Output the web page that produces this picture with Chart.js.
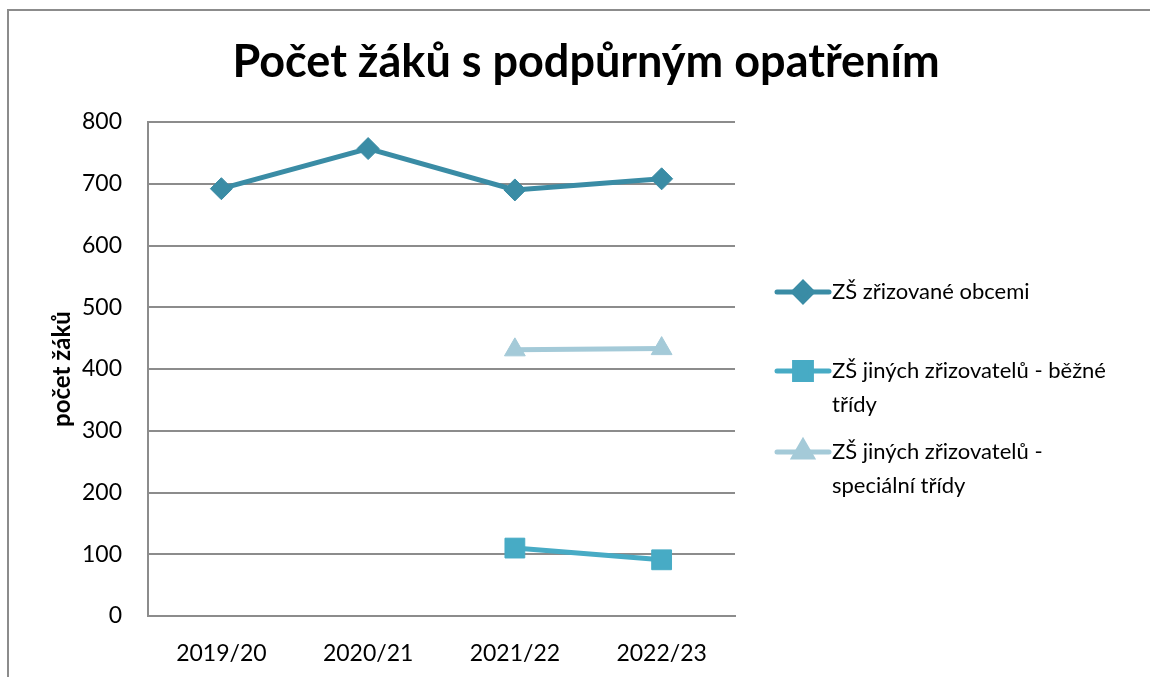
<!DOCTYPE html>
<html>
<head>
<meta charset="utf-8">
<script src="https://cdn.jsdelivr.net/npm/chart.js@4/dist/chart.umd.min.js"></script>
<style>
  html, body { margin: 0; padding: 0; background: #fff; }
  #wrap { width: 1150px; height: 677px; }
</style>
</head>
<body>
<div id="wrap"><canvas id="chart1" width="1150" height="677"></canvas></div>
<script>
const years = ['2019/20', '2020/21', '2021/22', '2022/23'];
const obce = [692, 757, 690, 708];
const bezne = [null, null, 110, 91];
const specialni = [null, null, 431, 433];
const seriesNames = ['ZŠ zřizované obcemi', 'ZŠ jiných zřizovatelů - běžné třídy', 'ZŠ jiných zřizovatelů - speciální třídy'];
const legendLines = [['ZŠ zřizované obcemi'], ['ZŠ jiných zřizovatelů - běžné', 'třídy'], ['ZŠ jiných zřizovatelů -', 'speciální třídy']];
const colors = ['#3a8ca5', '#47abc5', '#a4cad8'];
const markers = ['rectRot', 'rect', 'triangle'];
const markerSizes = [11, 14, 12];

const fontFamily = 'Lato, "Noto Sans", sans-serif';

// border of the chart frame (top and left only are visible)
const framePlugin = {
    id: 'frame',
    beforeDraw(chart) {
        const ctx = chart.ctx;
        ctx.save();
        ctx.fillStyle = '#fff';
        ctx.fillRect(0, 0, chart.width, chart.height);
        ctx.strokeStyle = '#8c8c8c';
        ctx.lineWidth = 2;
        ctx.beginPath();
        ctx.moveTo(8, chart.height);
        ctx.lineTo(8, 10);
        ctx.lineTo(chart.width, 10);
        ctx.stroke();
        ctx.restore();
    }
};

// legend on the right with wrapped labels
const sideLegend = {
    id: 'sideLegend',
    afterDraw(chart) {
        const ctx = chart.ctx;
        const rowY = [292, 371, 452];
        ctx.save();
        ctx.font = '22px ' + fontFamily;
        ctx.textBaseline = 'middle';
        chart.data.datasets.forEach((ds, i) => {
            const y = rowY[i];
            ctx.strokeStyle = ds.borderColor;
            ctx.lineWidth = 5;
            ctx.lineCap = 'round';
            ctx.beginPath();
            ctx.moveTo(777, y);
            ctx.lineTo(829, y);
            ctx.stroke();
            ctx.fillStyle = ds.pointBackgroundColor;
            ctx.strokeStyle = ds.pointBackgroundColor;
            Chart.helpers.drawPoint(ctx, {
                pointStyle: ds.pointStyle,
                radius: ds.pointRadius * 0.85,
                rotation: 0,
                borderWidth: 1
            }, 803, y);
            ctx.fillStyle = '#000';
            legendLines[i].forEach((t, j) => {
                ctx.fillText(t, 832, y + j * 34);
            });
        });
        ctx.restore();
    }
};

const datasets = [obce, bezne, specialni].map((vals, i) => ({
    label: seriesNames[i],
    data: vals,
    borderColor: colors[i],
    backgroundColor: colors[i],
    pointBackgroundColor: colors[i],
    pointBorderColor: colors[i],
    pointBorderWidth: 1,
    pointStyle: markers[i],
    pointRadius: markerSizes[i],
    pointHoverRadius: markerSizes[i],
    borderWidth: 5,
    tension: 0,
    spanGaps: false
}));

const config = {
    type: 'line',
    data: { labels: years, datasets: datasets },
    options: {
        responsive: false,
        animation: false,
        layout: { padding: { left: 22, right: 0, top: 0, bottom: 0 } },
        plugins: {
            legend: { display: false },
            tooltip: { enabled: false },
            title: {
                display: true,
                text: 'Počet žáků s podpůrným opatřením',
                color: '#000',
                font: { family: fontFamily, size: 45, weight: 'bold', lineHeight: 1.2 },
                padding: { top: 35, bottom: 33 }
            }
        },
        scales: {
            x: {
                offset: true,
                grid: { display: false, drawTicks: false },
                border: { display: true, color: '#8c8c8c', width: 2 },
                ticks: { color: '#000', padding: 24, font: { family: fontFamily, size: 23 } },
                afterFit: (s) => { s.height = 61; }
            },
            y: {
                position: 'left',
                min: 0,
                max: 800,
                ticks: { stepSize: 100, color: '#000', padding: 26, font: { family: fontFamily, size: 23 } },
                grid: { color: '#8c8c8c', lineWidth: 2, drawTicks: false },
                border: { display: true, color: '#8c8c8c', width: 2 },
                title: {
                    display: true,
                    text: 'počet žáků',
                    color: '#000',
                    font: { family: fontFamily, size: 24, weight: 'bold' },
                    padding: { top: 26, bottom: 0 }
                },
                afterFit: (s) => { s.width = 126; }
            },
            side: {
                position: 'right',
                display: true,
                grid: { display: false, drawTicks: false },
                border: { display: false },
                ticks: { display: false },
                afterFit: (s) => { s.width = 415; }
            }
        }
    },
    plugins: [framePlugin, sideLegend]
};

new Chart(document.getElementById('chart1'), config);
</script>
</body>
</html>
